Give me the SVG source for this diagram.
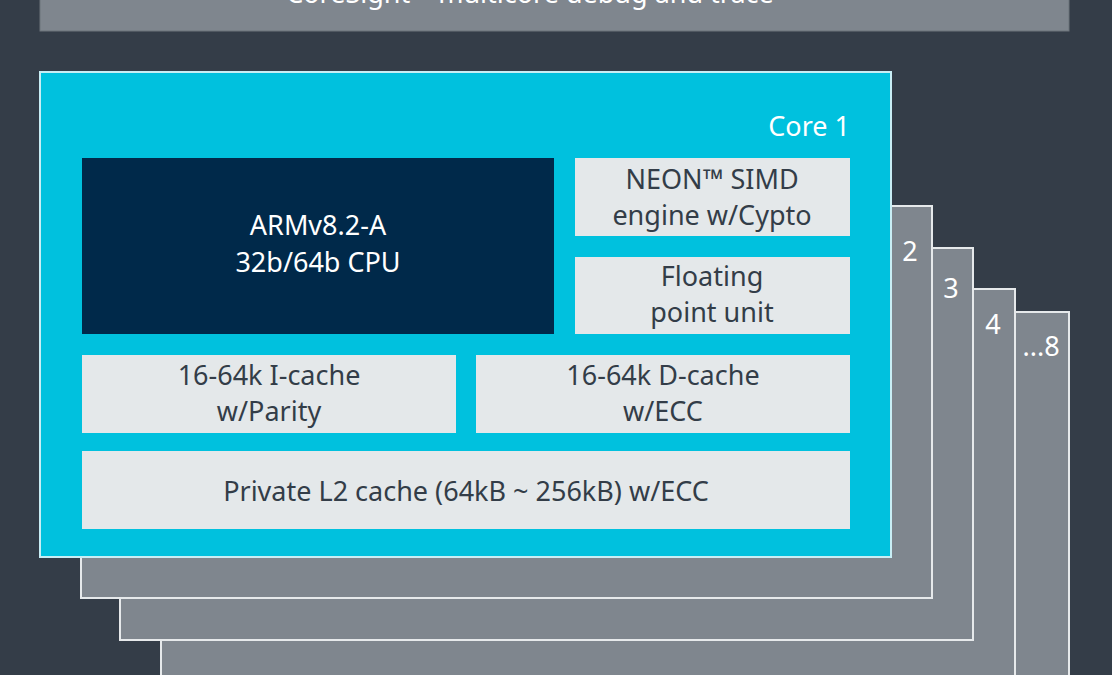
<svg xmlns="http://www.w3.org/2000/svg" width="1112" height="675" viewBox="0 0 1112 675">
<style>
.card{fill:#7f868e;stroke:#e6e9eb;stroke-width:2}
.lb{fill:#e4e8ea}
text{font-family:"Noto Sans","Liberation Sans",sans-serif;font-size:27px;text-anchor:middle}
.d{fill:#333d48}
.w{fill:#ffffff}
</style>
<rect width="1112" height="675" fill="#343d48"/>
<g id="topbar">
<rect x="40" y="-10" width="1029" height="41" fill="#7f868e" stroke="#6d747b" stroke-width="1"/>
<text class="w" x="530" y="3">CoreSight™ multicore debug and trace</text>
</g>
<g id="core8"><rect class="card" x="200" y="312" width="869" height="400"/><text class="w" x="1041" y="356">...8</text></g>
<g id="core4"><rect class="card" x="161" y="289" width="854" height="420"/><text class="w" x="993" y="334">4</text></g>
<g id="core3"><rect class="card" x="120" y="248" width="853" height="392"/><text class="w" x="951" y="298">3</text></g>
<g id="core2"><rect class="card" x="81" y="206" width="851" height="392"/><text class="w" x="910" y="261">2</text></g>
<g id="core1">
<rect x="40" y="72" width="851" height="485" fill="#00c1de" stroke="#c8eef5" stroke-width="2"/>
<text class="w" x="850" y="136" style="text-anchor:end">Core 1</text>
</g>
<g id="cpu"><rect x="82" y="158" width="472" height="176" fill="#00294a"/>
<text class="w" x="318" y="235">ARMv8.2-A</text><text class="w" x="318" y="272">32b/64b CPU</text></g>
<g id="neon"><rect class="lb" x="575" y="158" width="275" height="78"/>
<text class="d" x="712" y="189">NEON™ SIMD</text><text class="d" x="712" y="225">engine w/Cypto</text></g>
<g id="fpu"><rect class="lb" x="575" y="257" width="275" height="77"/>
<text class="d" x="712" y="286">Floating</text><text class="d" x="712" y="322">point unit</text></g>
<g id="icache"><rect class="lb" x="82" y="355" width="374" height="78"/>
<text class="d" x="269" y="385">16-64k I-cache</text><text class="d" x="269" y="421">w/Parity</text></g>
<g id="dcache"><rect class="lb" x="476" y="355" width="374" height="78"/>
<text class="d" x="663" y="385">16-64k D-cache</text><text class="d" x="663" y="421">w/ECC</text></g>
<g id="l2"><rect class="lb" x="82" y="451" width="768" height="78"/>
<text class="d" x="466" y="501">Private L2 cache (64kB ~ 256kB) w/ECC</text></g>
<g id="connectors"/>
</svg>
